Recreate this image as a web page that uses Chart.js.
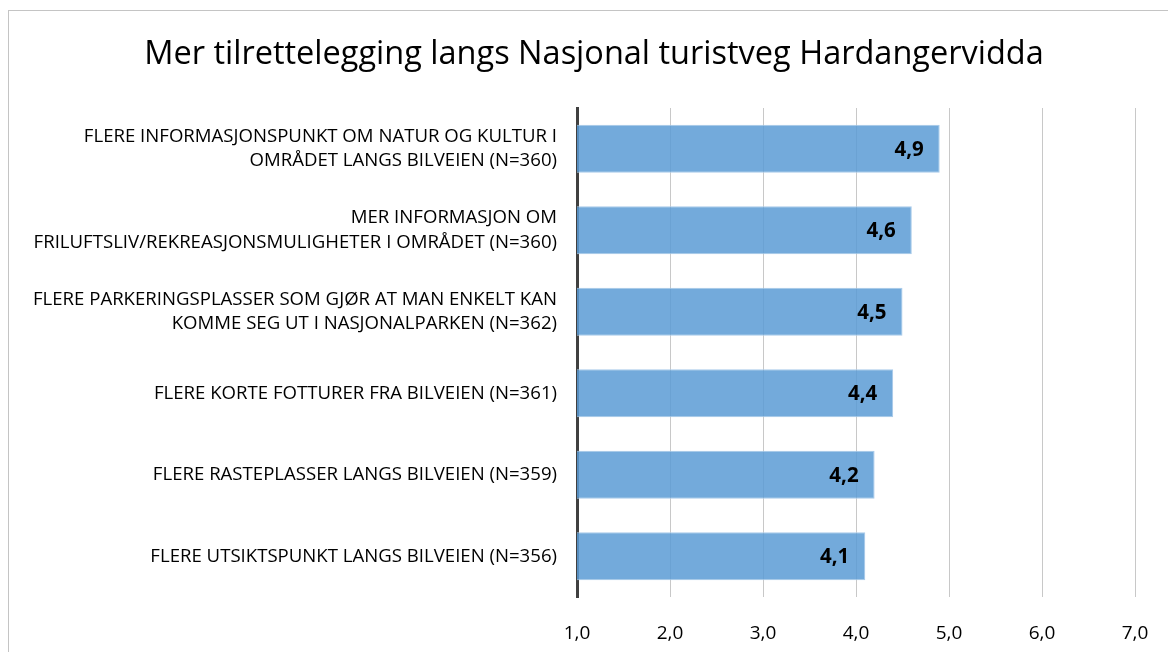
<!DOCTYPE html>
<html lang="no">
<head>
  <meta charset="UTF-8">
  <title>Nasjonal turistveg Hardangervidda</title>
  <script src="https://cdn.jsdelivr.net/npm/chart.js"></script>
  <style>
    body {
      margin: 0;
      padding: 0;
      background: #fff;
    }
    .wrap {
      width: 1168px;
      height: 652px;
    }
  </style>
</head>
<body>
  <div class="wrap">
    <canvas id="chart" width="1168" height="652"></canvas>
  </div>

  <script>
    const chartTitle = 'Mer tilrettelegging langs Nasjonal turistveg Hardangervidda';
    const categories = [
      ['FLERE INFORMASJONSPUNKT OM NATUR OG KULTUR I', 'OMRÅDET LANGS BILVEIEN (N=360)'],
      ['MER INFORMASJON OM', 'FRILUFTSLIV/REKREASJONSMULIGHETER I OMRÅDET (N=360)'],
      ['FLERE PARKERINGSPLASSER SOM GJØR AT MAN ENKELT KAN', 'KOMME SEG UT I NASJONALPARKEN (N=362)'],
      'FLERE KORTE FOTTURER FRA BILVEIEN (N=361)',
      'FLERE RASTEPLASSER LANGS BILVEIEN (N=359)',
      'FLERE UTSIKTSPUNKT LANGS BILVEIEN (N=356)'
    ];
    const values = [4.9, 4.6, 4.5, 4.4, 4.2, 4.1];
    const tickLabels = ['1,0', '2,0', '3,0', '4,0', '5,0', '6,0', '7,0'];

    const fontFamily = '"Open Sans", Arial, sans-serif';
    const fmt = v => v.toFixed(1).replace('.', ',');

    // white background, thin frame and the title (centred on the frame, not the plot)
    const frame = {
      id: 'frame',
      beforeDraw(chart) {
        const ctx = chart.ctx;
        ctx.save();
        ctx.fillStyle = '#fff';
        ctx.fillRect(0, 0, chart.width, chart.height);
        ctx.strokeStyle = '#c4c4c4';
        ctx.lineWidth = 1;
        ctx.strokeRect(8.5, 10.5, chart.width + 20, chart.height + 20);
        ctx.font = '32.5px ' + fontFamily;
        ctx.fillStyle = '#000';
        ctx.textAlign = 'center';
        ctx.textBaseline = 'middle';
        ctx.fillText(chartTitle, 594, 55);
        ctx.restore();
      }
    };

    // value labels inside the bar ends
    const valueLabels = {
      id: 'valueLabels',
      afterDatasetsDraw(chart) {
        const ctx = chart.ctx;
        const meta = chart.getDatasetMeta(0);
        ctx.save();
        ctx.font = 'bold 20.5px ' + fontFamily;
        ctx.fillStyle = '#000';
        ctx.textAlign = 'right';
        ctx.textBaseline = 'middle';
        meta.data.forEach((bar, i) => {
          ctx.fillText(fmt(values[i]), bar.x - 16, bar.y + 1);
        });
        ctx.restore();
      }
    };

    const ctx = document.getElementById('chart').getContext('2d');
    new Chart(ctx, {
      type: 'bar',
      data: {
        labels: categories,
        datasets: [{
          data: values,
          backgroundColor: 'rgba(91, 155, 213, 0.85)',
          borderColor: '#a9cbea',
          borderWidth: 1,
          borderSkipped: 'left',
          categoryPercentage: 1,
          barPercentage: 0.59
        }]
      },
      options: {
        indexAxis: 'y',
        responsive: false,
        animation: false,
        layout: {
          padding: { left: 20, right: 33, top: 108, bottom: 0 }
        },
        plugins: {
          legend: { display: false },
          tooltip: { enabled: false },
          title: { display: false }
        },
        scales: {
          x: {
            min: 1,
            max: 7,
            ticks: {
              stepSize: 1,
              color: '#000',
              padding: 25,
              font: { family: fontFamily, size: 19 },
              callback: (v, i) => tickLabels[i]
            },
            grid: {
              color: '#c8c8c8',
              drawTicks: false
            },
            border: { display: false },
            afterFit(scale) {
              scale.height = 55;
              scale.paddingRight = 0;
            }
          },
          y: {
            ticks: {
              color: '#000',
              padding: 12,
              font: { family: fontFamily, size: 18.6, lineHeight: 1.3 }
            },
            grid: { display: false },
            border: { display: true, color: '#404040', width: 3 },
            afterFit(scale) { scale.width = 557; }
          }
        }
      },
      plugins: [frame, valueLabels]
    });
  </script>
</body>
</html>
